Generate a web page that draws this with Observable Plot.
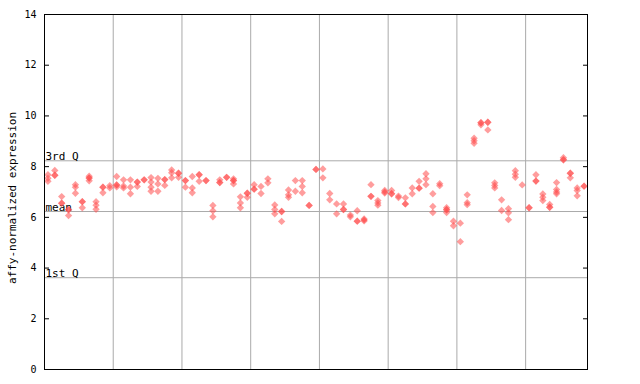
<!DOCTYPE html>
<html>
<head>
<meta charset="utf-8">
<script src="https://cdn.jsdelivr.net/npm/d3@7"></script>
<script src="https://cdn.jsdelivr.net/npm/@observablehq/plot@0.6"></script>
<style>
  html, body { margin: 0; padding: 0; background: white; }
  svg { display: block; }
</style>
</head>
<body>
<script>
// Expression values per sample column (replicates; repeated values overlap and look solid)
const columnValues = [
  [7.68, 7.54, 7.42], [7.85, 7.66, 7.66], [6.82, 6.56, 6.56], [6.30, 6.30, 6.07],
  [7.29, 7.19, 6.95], [6.62, 6.62, 6.38], [7.62, 7.55, 7.55, 7.44], [6.62, 6.48, 6.32],
  [7.19, 7.19, 6.97], [7.25, 7.16], [7.61, 7.28, 7.28, 7.20], [7.48, 7.24, 7.16],
  [7.48, 7.19, 6.93], [7.39, 7.39, 7.22], [7.48, 7.48], [7.57, 7.39, 7.19, 7.03],
  [7.54, 7.32, 7.03], [7.49, 7.49, 7.26], [7.87, 7.76, 7.56], [7.74, 7.74, 7.58],
  [7.45, 7.45, 7.19], [7.61, 7.16, 6.97], [7.68, 7.68, 7.42], [7.45, 7.45],
  [6.47, 6.26, 6.02], [7.48, 7.37, 7.37], [7.58, 7.58], [7.52, 7.45, 7.45, 7.32],
  [6.81, 6.57, 6.38], [6.95, 6.95, 6.79], [7.29, 7.11, 7.11], [7.22, 6.94],
  [7.52, 7.36], [6.49, 6.31, 6.14], [6.23, 6.23, 5.84], [7.08, 6.89, 6.79],
  [7.45, 7.03], [7.45, 7.22, 6.97], [6.47, 6.47], [7.89, 7.89],
  [7.91, 7.56], [6.94, 6.69], [6.53, 6.14], [6.53, 6.31, 6.31],
  [6.09, 6.02], [6.26, 5.85, 5.85], [5.94, 5.90, 5.86], [7.29, 6.83, 6.83],
  [6.66, 6.57, 6.48], [7.06, 7.00, 6.96], [7.06, 6.93, 6.93], [6.84, 6.78],
  [6.77, 6.53, 6.53], [7.16, 6.93], [7.42, 7.15, 7.15], [7.72, 7.52, 7.29],
  [6.93, 6.43, 6.19], [7.33, 7.25], [6.38, 6.30, 6.30, 6.19], [5.85, 5.67],
  [5.77, 5.04], [6.89, 6.58, 6.50], [9.12, 9.02, 8.92], [9.73, 9.73, 9.65],
  [9.75, 9.75, 9.45], [7.36, 7.26, 7.16], [6.69, 6.27], [6.34, 6.18, 5.91],
  [7.84, 7.70, 7.58], [7.28], [6.38, 6.38], [7.68, 7.43, 7.43],
  [6.92, 6.79, 6.66], [6.51, 6.40, 6.40], [7.37, 7.10, 7.00, 6.93], [8.35, 8.27, 8.27],
  [7.74, 7.74, 7.56], [7.16, 7.06, 6.85], [7.23, 7.23]
];
const groupBreaks = [10, 20, 30, 40, 50, 60, 70];
const statNames = ["3rd Q", "mean", "1st Q"];
const statValues = [8.23, 6.23, 3.62];
const yTicks = [0, 2, 4, 6, 8, 10, 12, 14];
const yTitle = "affy-normalized expression";

const points = columnValues.flatMap((vals, i) => vals.map(v => ({col: i, value: v})));
const stats = statNames.map((name, i) => ({name, value: statValues[i]}));
const nCols = columnValues.length;

const red = "#ff4d4d";
const font = "DejaVu Sans Mono, monospace";

const chart = Plot.plot({
  width: 640,
  height: 384,
  marginLeft: 44,
  marginRight: 53,
  marginTop: 14,
  marginBottom: 15,
  x: {domain: [0, nCols], axis: null},
  y: {domain: [0, 14], axis: null},
  style: {fontFamily: font, fontSize: "10px", background: "white", color: "black"},
  marks: [
    Plot.ruleX(groupBreaks, {stroke: "#aaaaaa", strokeWidth: 1}),
    Plot.ruleY(stats, {y: "value", stroke: "#aaaaaa", strokeWidth: 1}),
    Plot.text(stats, {y: "value", text: "name", frameAnchor: "left", textAnchor: "start",
      lineAnchor: "bottom", dx: 1, dy: -1, fontSize: 11, fill: "black"}),
    Plot.dot(points, {x: d => d.col + 0.5, y: "value", symbol: "diamond2", r: 3.3,
      fill: red, fillOpacity: 0.55, stroke: "none"}),
    Plot.axisY({anchor: "left", ticks: yTicks, tickSize: 0, tickPadding: 8, label: null,
      fontSize: 10}),
    Plot.axisY({anchor: "left", ticks: yTicks, tickSize: 5, dx: 5, tickFormat: () => "", label: null}),
    Plot.axisY({anchor: "right", ticks: yTicks, tickSize: 5, dx: -5, tickFormat: () => "", label: null}),
    Plot.frame({stroke: "black", strokeWidth: 1}),
    Plot.text([yTitle], {frameAnchor: "left", textAnchor: "middle", text: d => d, rotate: -90,
      dx: -32.5, dy: 6, fontSize: 11, fill: "black"})
  ]
});
document.body.appendChild(chart);
</script>
</body>
</html>
